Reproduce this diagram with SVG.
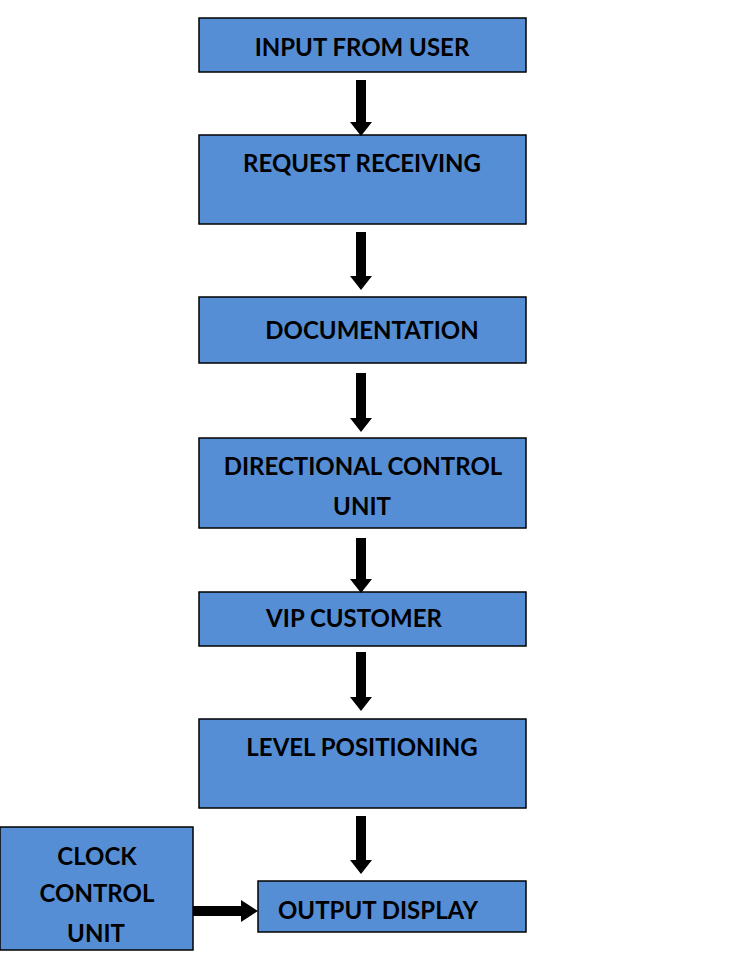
<svg xmlns="http://www.w3.org/2000/svg" width="742" height="954" viewBox="0 0 742 954">
<style>
.box{fill:#558ED5;stroke:#000;stroke-width:1.5}
.t{font-family:Lato,"Open Sans","Liberation Sans",sans-serif;font-weight:bold;font-size:24px;fill:#000;text-anchor:middle}
.c{fill:#000}
</style>
<rect width="742" height="954" fill="#fff"/>
<g id="input"><rect class="box" x="199" y="18" width="327" height="54"/><text class="t" x="362" y="55.5">INPUT FROM USER</text></g>
<g id="request"><rect class="box" x="199" y="135" width="327" height="89"/><text class="t" x="362" y="171.5">REQUEST RECEIVING</text></g>
<g id="documentation"><rect class="box" x="199" y="297" width="327" height="66"/><text class="t" x="372" y="338.5">DOCUMENTATION</text></g>
<g id="directional"><rect class="box" x="199" y="438" width="327" height="90"/><text class="t" x="363" y="474.5">DIRECTIONAL CONTROL</text><text class="t" x="362" y="514.5">UNIT</text></g>
<g id="vip"><rect class="box" x="199" y="592" width="327" height="54"/><text class="t" x="354" y="626.5">VIP CUSTOMER</text></g>
<g id="level"><rect class="box" x="199" y="719" width="327" height="89"/><text class="t" x="362" y="755.5">LEVEL POSITIONING</text></g>
<g id="output"><rect class="box" x="258" y="881" width="268" height="51"/><text class="t" x="378" y="918.5">OUTPUT DISPLAY</text></g>
<g id="clock"><rect class="box" x="0" y="827" width="193" height="123"/><text class="t" x="97" y="864.5">CLOCK</text><text class="t" x="97" y="901.5">CONTROL</text><text class="t" x="96" y="941.5">UNIT</text></g>
<g id="connectors">
<polygon class="c" points="356,80 366,80 366,122 372,122 361,136 350,122 356,122"/>
<polygon class="c" points="356,232 366,232 366,276 372,276 361,290 350,276 356,276"/>
<polygon class="c" points="356,373 366,373 366,418 372,418 361,432 350,418 356,418"/>
<polygon class="c" points="356,538 366,538 366,579 372,579 361,593 350,579 356,579"/>
<polygon class="c" points="356,652 366,652 366,697 372,697 361,711 350,697 356,697"/>
<polygon class="c" points="356,816 366,816 366,860 372,860 361,874 350,860 356,860"/>
<polygon class="c" points="193,906 241,906 241,900 258,911 241,922 241,916 193,916"/>
</g>
</svg>
